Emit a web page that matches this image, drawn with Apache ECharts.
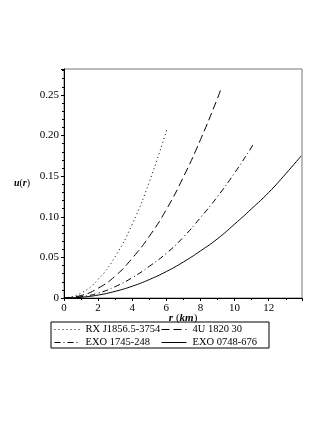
<!DOCTYPE html>
<html>
<head>
<meta charset="utf-8">
<script src="https://cdn.jsdelivr.net/npm/echarts@6/dist/echarts.min.js"></script>
<style>
  html, body { margin: 0; padding: 0; background: #fff; }
  #chart { width: 327px; height: 423px; }
</style>
</head>
<body>
<div id="chart"></div>
<script>
// values, [r (km), u(r)]
var rxJ1856 = [[0, 0], [1, 0.006], [2, 0.023], [3, 0.051], [4, 0.091], [5, 0.143], [6.02, 0.207]];
var u1820 = [[0, 0], [1, 0.003], [2, 0.012], [3, 0.027], [4, 0.049], [5, 0.076], [6, 0.109],
  [7, 0.149], [8, 0.195], [9, 0.246], [9.19, 0.257]];
var exo1745 = [[0, 0], [1, 0.0015], [2, 0.006], [3, 0.014], [4, 0.025], [5, 0.039], [6, 0.055],
  [7, 0.075], [8, 0.099], [9, 0.125], [10, 0.154], [11, 0.186], [11.07, 0.189]];
var exo0748 = [[0, 0], [1, 0.0009], [2, 0.0036], [3, 0.0082], [4, 0.0145], [5, 0.0227], [6, 0.0326],
  [7, 0.0444], [8, 0.058], [9, 0.073], [10, 0.091], [11, 0.110], [12, 0.130], [13, 0.153], [13.9, 0.175]];
var names = ["RX J1856.5-3754", "4U 1820 30", "EXO 1745-248", "EXO 0748-676"];

var font = "Liberation Serif";
var myChart = echarts.init(document.getElementById("chart"));

function lineSeries(name, data, type) {
  return {
    name: name,
    type: "line",
    data: data,
    smooth: true,
    showSymbol: false,
    symbol: "none",
    color: "#000",
    lineStyle: { color: "#000", width: 1, type: type }
  };
}

function legendColumn(left, data) {
  return {
    orient: "vertical",
    left: left,
    top: 324,
    itemWidth: 25,
    itemHeight: 10,
    itemGap: 2,
    padding: 0,
    itemStyle: { opacity: 0 },
    lineStyle: { width: 1 },
    textStyle: { fontFamily: font, fontSize: 10.5, color: "#000", padding: [0, 0, 0, 1] },
    data: data
  };
}

var option = {
  backgroundColor: "#fff",
  animation: false,
  textStyle: { fontFamily: font, color: "#000" },
  grid: {
    left: 64,
    right: 25,
    top: 69,
    bottom: 125,
    show: true,
    borderColor: "#777",
    borderWidth: 1
  },
  legend: [
    legendColumn(54, [names[0], names[2]]),
    legendColumn(161, [names[1], names[3]])
  ],
  graphic: [
    {
      type: "rect",
      shape: { x: 51, y: 322, width: 218, height: 26 },
      style: { fill: "none", stroke: "#000", lineWidth: 1 }
    }
  ],
  xAxis: {
    type: "value",
    min: 0,
    max: 13.95,
    interval: 2,
    name: "{b|r} {n|(}{b|km}{n|)}",
    nameLocation: "middle",
    nameGap: 14,
    nameMoveOverlap: false,
    nameTextStyle: {
      rich: {
        b: { fontFamily: font, fontSize: 11, fontStyle: "italic", fontWeight: "bold", color: "#000" },
        n: { fontFamily: font, fontSize: 11, color: "#000" }
      }
    },
    axisLine: { show: true, onZero: false, lineStyle: { color: "#000", width: 1 } },
    axisTick: { show: true, length: 3, lineStyle: { color: "#000" } },
    minorTick: { show: true, splitNumber: 2, length: 2, lineStyle: { color: "#000" } },
    splitLine: { show: false },
    axisLabel: { margin: 5, fontFamily: font, fontSize: 11, color: "#000", showMaxLabel: false }
  },
  yAxis: {
    type: "value",
    min: 0,
    max: 0.282,
    interval: 0.05,
    name: "{b|u}{n|(}{b|r}{n|)}",
    nameLocation: "middle",
    nameRotate: 0,
    nameGap: 34,
    nameMoveOverlap: false,
    nameTextStyle: {
      rich: {
        b: { fontFamily: font, fontSize: 10, fontStyle: "italic", fontWeight: "bold", color: "#000" },
        n: { fontFamily: font, fontSize: 10, color: "#000" }
      }
    },
    axisLine: { show: true, onZero: false, lineStyle: { color: "#000", width: 1 } },
    axisTick: { show: true, length: 3, lineStyle: { color: "#000" } },
    minorTick: { show: true, splitNumber: 5, length: 2, lineStyle: { color: "#000" } },
    splitLine: { show: false },
    axisLabel: {
      margin: 5,
      fontFamily: font,
      fontSize: 11,
      color: "#000",
      showMaxLabel: false,
      formatter: function (v) {
        return v === 0 ? "0" : v.toFixed(2);
      }
    }
  },
  series: [
    lineSeries(names[0], rxJ1856, [1, 3]),
    lineSeries(names[1], u1820, [8, 4]),
    lineSeries(names[2], exo1745, [6, 3, 1, 3]),
    lineSeries(names[3], exo0748, "solid")
  ]
};
myChart.setOption(option);
</script>
</body>
</html>
